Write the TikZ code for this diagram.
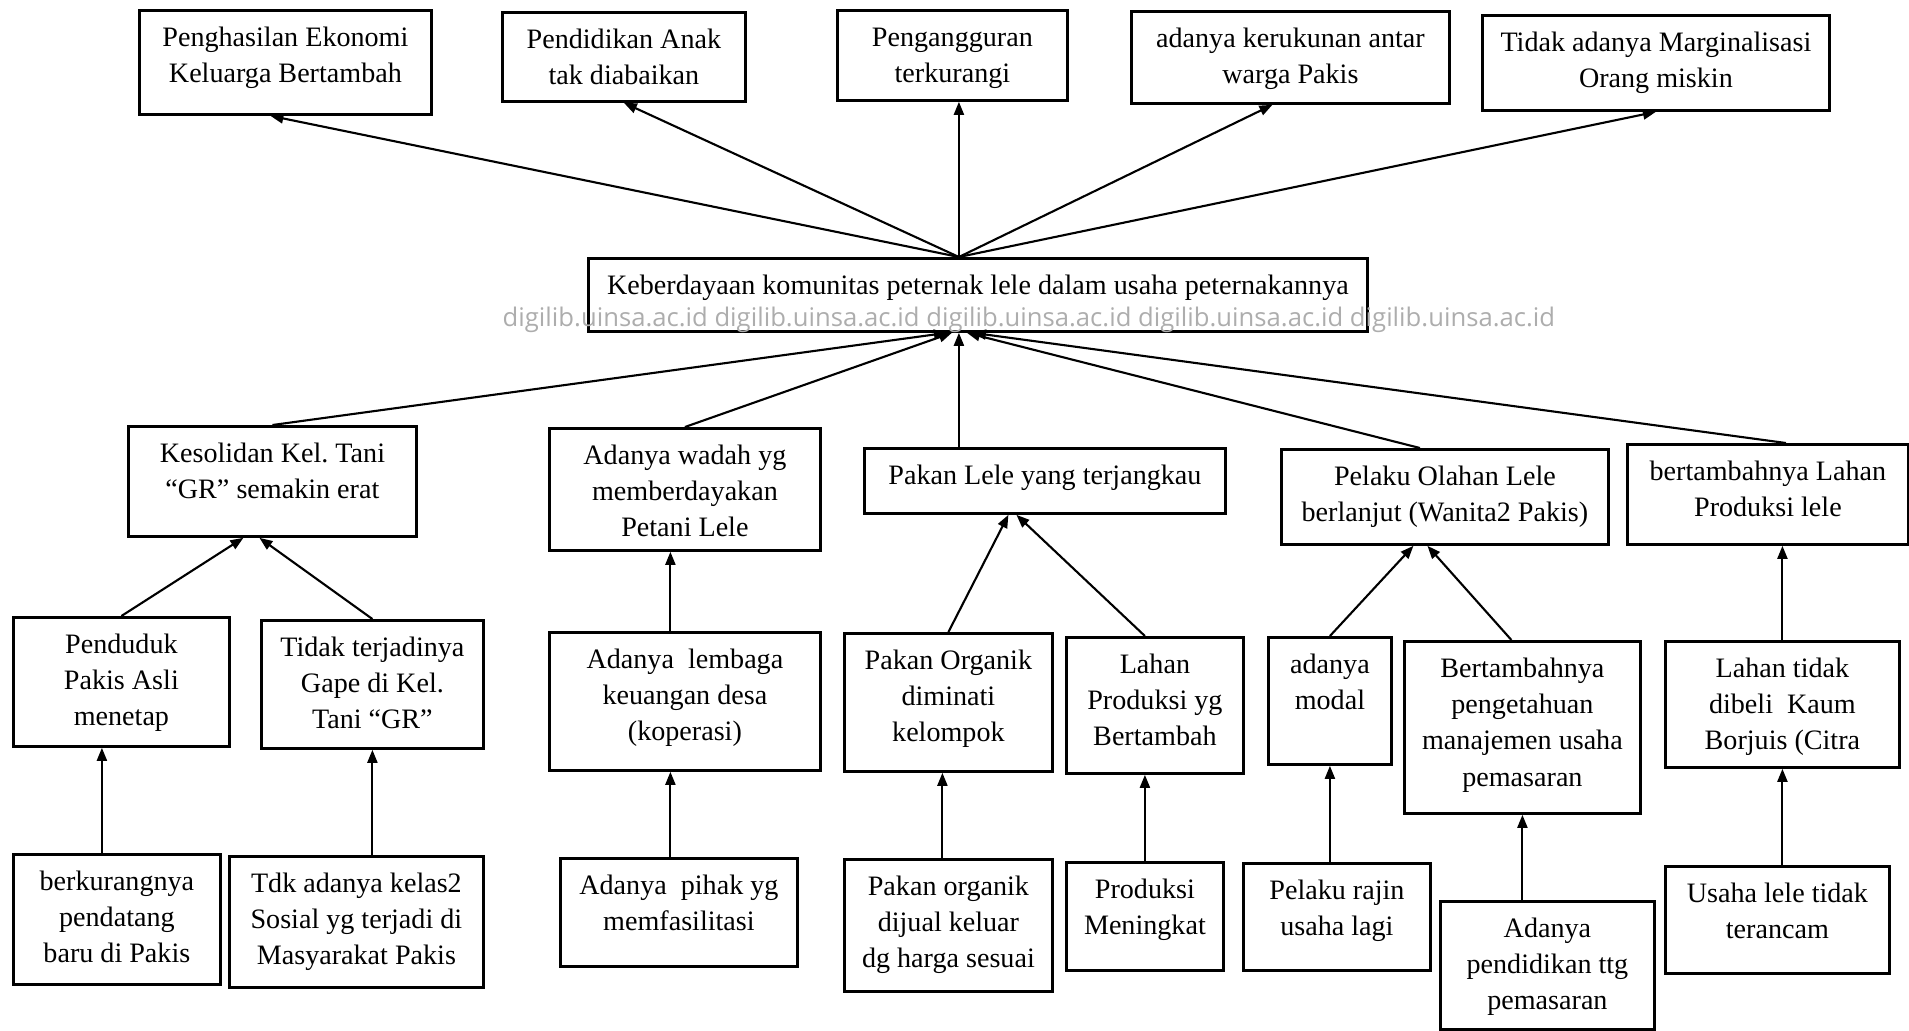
\documentclass[tikz,border=0pt]{standalone}
\usepackage{fontspec}
\setmainfont{Liberation Serif}
\newfontfamily\wmfont{Open Sans}
\usetikzlibrary{arrows.meta,calc}
\frenchspacing

% text of a box: fixed size, lines centred and hanging from the top
\newcommand{\celltext}[3]{\parbox[t][#2][t]{#1}{\centering\rule{0pt}{3.6mm}#3}}

\begin{document}
\begin{tikzpicture}[
  >={Triangle[length=1.3mm,width=1mm]},
  box/.style={draw, line width=.8pt, inner sep=0pt, anchor=north west,
              font=\fontsize{8}{10.3}\selectfont},
  e/.style={->, line width=.6pt},
  wmark/.style={font=\wmfont\fontsize{7.3}{9}\selectfont, text=black!32, inner sep=0pt}
]
\useasboundingbox (0,0) rectangle (19.09,-10.30);

% Outcomes along the top.
\node[box] (income) at (1.38,-0.09)  {\celltext{2.92cm}{1.04cm}{Penghasilan Ekonomi\\Keluarga Bertambah}};
\node[box] (school) at (5.01,-0.11)  {\celltext{2.43cm}{0.89cm}{Pendidikan Anak\\tak diabaikan}};
\node[box] (jobs)   at (8.36,-0.09)  {\celltext{2.30cm}{0.90cm}{Pengangguran\\terkurangi}};
\node[box] (unity)  at (11.30,-0.10) {\celltext{3.18cm}{0.92cm}{adanya kerukunan antar\\warga Pakis}};
\node[box] (poor)   at (14.81,-0.14) {\celltext{3.47cm}{0.95cm}{Tidak adanya Marginalisasi\\Orang miskin}};

% Core goal.
\node[box] (central) at (5.87,-2.57) {\celltext{7.79cm}{0.73cm}{Keberdayaan komunitas peternak lele dalam usaha peternakannya}};

% Second row.
\node[box] (solid) at (1.27,-4.25)  {\celltext{2.88cm}{1.10cm}{Kesolidan Kel. Tani\\“GR” semakin erat}};
\node[box] (forum) at (5.48,-4.27)  {\celltext{2.71cm}{1.22cm}{Adanya wadah yg\\memberdayakan\\Petani Lele}};
\node[box] (feed)  at (8.63,-4.47)  {\celltext{3.61cm}{0.65cm}{Pakan Lele yang terjangkau}};
\node[box] (olah)  at (12.80,-4.48) {\celltext{3.27cm}{0.95cm}{Pelaku Olahan Lele\\berlanjut (Wanita2 Pakis)}};
\node[box] (land)  at (16.26,-4.43) {\celltext{2.81cm}{1.00cm}{bertambahnya Lahan\\Produksi lele}};

% Third row.
\node[box] (native)  at (0.12,-6.16)  {\celltext{2.16cm}{1.29cm}{Penduduk\\Pakis Asli\\menetap}};
\node[box] (nogap)   at (2.60,-6.19)  {\celltext{2.22cm}{1.28cm}{Tidak terjadinya\\Gape di Kel.\\Tani “GR”}};
\node[box] (coop)    at (5.48,-6.31)  {\celltext{2.71cm}{1.38cm}{Adanya~ lembaga\\keuangan desa\\(koperasi)}};
\node[box] (organic) at (8.43,-6.32)  {\celltext{2.08cm}{1.38cm}{Pakan Organik\\diminati\\kelompok}};
\node[box] (plot)    at (10.65,-6.36) {\celltext{1.77cm}{1.36cm}{Lahan\\Produksi yg\\Bertambah}};
\node[box] (capital) at (12.67,-6.36) {\celltext{1.23cm}{1.27cm}{adanya\\modal}};
\node[box] (know)    at (14.03,-6.40) {\celltext{2.36cm}{1.72cm}{Bertambahnya\\pengetahuan\\manajemen usaha\\pemasaran}};
\node[box] (keep)    at (16.64,-6.40) {\celltext{2.34cm}{1.26cm}{Lahan tidak\\dibeli~ Kaum\\Borjuis (Citra}};

% Bottom row.
\node[box] (fewnew)   at (0.12,-8.53)  {\celltext{2.07cm}{1.30cm}{berkurangnya\\pendatang\\baru di Pakis}};
\node[box] (noclass)  at (2.28,-8.55)  {\celltext{2.54cm}{1.31cm}{Tdk adanya kelas2\\Sosial yg terjadi di\\Masyarakat Pakis}};
\node[box] (facil)    at (5.59,-8.57)  {\celltext{2.37cm}{1.08cm}{Adanya~ pihak yg\\memfasilitasi}};
\node[box] (sold)     at (8.43,-8.58)  {\celltext{2.08cm}{1.32cm}{Pakan organik\\dijual keluar\\dg harga sesuai}};
\node[box] (yield)    at (10.65,-8.61) {\celltext{1.57cm}{1.08cm}{Produksi\\Meningkat}};
\node[box] (diligent) at (12.42,-8.62) {\celltext{1.87cm}{1.07cm}{Pelaku rajin\\usaha lagi}};
\node[box] (edu)      at (14.39,-9.00) {\celltext{2.14cm}{1.28cm}{Adanya\\pendidikan ttg\\pemasaran}};
\node[box] (safe)     at (16.64,-8.65) {\celltext{2.24cm}{1.07cm}{Usaha lele tidak\\terancam}};

% All arrows meet the core box slightly left of its centre.
\coordinate (up) at ([xshift=-1.9mm]central.north);
\coordinate (dn) at ([xshift=-1.9mm]central.south);

\draw[e] (up) -- ([xshift=-1.5mm]income.south);
\draw[e] (up) -- (school.south);
\draw[e] (up) -- (up |- jobs.south);
\draw[e] (up) -- ([xshift=-1.8mm]unity.south);
\draw[e] (up) -- (poor.south);

\draw[e] (solid.north) -- ([xshift=-1.2mm]dn);
\draw[e] (forum.north) -- ([xshift=-.7mm]dn);
\draw[e] (feed.north -| dn) -- (dn);
\draw[e] ([xshift=-2.5mm]olah.north) -- ([xshift=.8mm]dn);
\draw[e] ([xshift=1.8mm]land.north) -- ([xshift=1.4mm]dn);

\draw[e] (native.north) -- ([xshift=-2.9mm]solid.south);
\draw[e] (nogap.north) -- ([xshift=-1.3mm]solid.south);
\draw[e] ([xshift=-1.45mm]coop.north) -- ([xshift=-1.45mm]forum.south);
\draw[e] (organic.north) -- ([xshift=-3.65mm]feed.south);
\draw[e] ([xshift=-1mm]plot.north) -- ([xshift=-2.85mm]feed.south);
\draw[e] (capital.north) -- ([xshift=-3.15mm]olah.south);
\draw[e] ([xshift=-1.1mm]know.north) -- ([xshift=-1.75mm]olah.south);
\draw[e] (keep.north) -- (keep.north |- land.south);

\draw[e] ([xshift=-1.5mm]fewnew.north) -- ([xshift=-1.5mm]fewnew.north |- native.south);
\draw[e] (noclass.north -| nogap.south) -- (nogap.south);
\draw[e] ([xshift=-.85mm]facil.north) -- ([xshift=-.85mm]facil.north |- coop.south);
\draw[e] ([xshift=-.6mm]sold.north) -- ([xshift=-.6mm]organic.south);
\draw[e] (yield.north) -- (yield.north |- plot.south);
\draw[e] (diligent.north -| capital.south) -- (capital.south);
\draw[e] (edu.north -| know.south) -- (know.south);
\draw[e] (safe.north -| keep.south) -- (keep.south);

% repository stamp over the core box
\node[wmark, anchor=base west] (stamp) at (5.02,-3.26)
  {digilib.uinsa.ac.id digilib.uinsa.ac.id digilib.uinsa.ac.id digilib.uinsa.ac.id digilib.uinsa.ac.id};
\end{tikzpicture}
\end{document}
